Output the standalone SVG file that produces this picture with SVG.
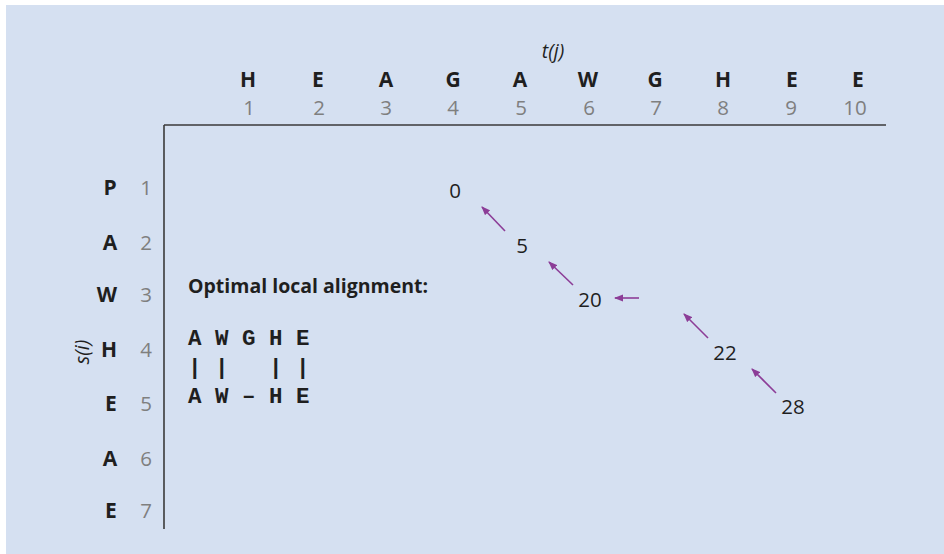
<svg xmlns="http://www.w3.org/2000/svg" width="944" height="554" viewBox="0 0 944 554">
<style>
.bg{fill:#d5e0f1}
.ax{stroke:#3a3a3a;stroke-width:1.6;fill:none}
.lt{font-family:"Open Sans","Noto Sans",sans-serif;font-weight:bold;font-size:21px;fill:#1f1f1f;text-anchor:middle}
.nm{font-family:"Open Sans","Noto Sans",sans-serif;font-size:20.5px;fill:#7f7f7f;text-anchor:middle}
.it{font-family:"Open Sans","Noto Sans",sans-serif;font-style:italic;font-size:19.5px;fill:#1f1f1f;text-anchor:middle}
.sc{font-family:"Open Sans","Noto Sans",sans-serif;font-size:20.5px;fill:#1f1f1f;text-anchor:middle}
.hd{font-family:"Open Sans","Noto Sans",sans-serif;font-weight:bold;font-size:19.5px;fill:#1f1f1f}
.mono{font-family:"Liberation Mono","Courier New",monospace;font-weight:bold;font-size:22.5px;fill:#1f1f1f;white-space:pre}
.arr{stroke:#8c3d97;stroke-width:1.6;fill:none;marker-end:url(#ah)}
</style>
<defs>
<marker id="ah" markerWidth="9" markerHeight="8" refX="8" refY="4" orient="auto" markerUnits="userSpaceOnUse">
<path d="M0,0.5 L9,4 L0,7.5 z" fill="#8c3d97"/>
</marker>
</defs>
<rect class="bg" x="6" y="5" width="938" height="549"/>
<g id="axes">
<line class="ax" x1="164" y1="125" x2="886" y2="125"/>
<line class="ax" x1="164" y1="125" x2="164" y2="529"/>
</g>
<g id="t-label"><text class="it" x="553" y="58">t(j)</text></g>
<g id="s-label"><text class="it" transform="translate(89,352) rotate(-90)">s(i)</text></g>
<g id="col-letters">
<text class="lt" x="248" y="87">H</text>
<text class="lt" x="318" y="87">E</text>
<text class="lt" x="386" y="87">A</text>
<text class="lt" x="453" y="87">G</text>
<text class="lt" x="520" y="87">A</text>
<text class="lt" x="588" y="87">W</text>
<text class="lt" x="655" y="87">G</text>
<text class="lt" x="723" y="87">H</text>
<text class="lt" x="792" y="87">E</text>
<text class="lt" x="858" y="87">E</text>
</g>
<g id="col-numbers">
<text class="nm" x="249" y="115">1</text>
<text class="nm" x="319" y="115">2</text>
<text class="nm" x="386" y="115">3</text>
<text class="nm" x="453" y="115">4</text>
<text class="nm" x="521" y="115">5</text>
<text class="nm" x="589" y="115">6</text>
<text class="nm" x="656" y="115">7</text>
<text class="nm" x="723" y="115">8</text>
<text class="nm" x="791" y="115">9</text>
<text class="nm" x="855" y="115">10</text>
</g>
<g id="row-letters">
<text class="lt" x="110" y="195">P</text>
<text class="lt" x="110" y="250">A</text>
<text class="lt" x="107" y="302">W</text>
<text class="lt" x="109" y="357">H</text>
<text class="lt" x="111" y="411">E</text>
<text class="lt" x="110" y="466">A</text>
<text class="lt" x="111" y="518">E</text>
</g>
<g id="row-numbers">
<text class="nm" x="146" y="195">1</text>
<text class="nm" x="146" y="250">2</text>
<text class="nm" x="146" y="302">3</text>
<text class="nm" x="146" y="357">4</text>
<text class="nm" x="146" y="411">5</text>
<text class="nm" x="146" y="466">6</text>
<text class="nm" x="146" y="518">7</text>
</g>
<g id="alignment">
<text class="hd" x="188" y="293">Optimal local alignment:</text>
<text class="mono" x="188" y="345" xml:space="preserve">A W G H E</text>
<text class="mono" x="188" y="374" xml:space="preserve">| |   | |</text>
<text class="mono" x="188" y="403" xml:space="preserve">A W – H E</text>
</g>
<g id="score-0"><text class="sc" x="455" y="198">0</text></g>
<g id="score-5"><text class="sc" x="522" y="253">5</text></g>
<g id="score-20"><text class="sc" x="590" y="307">20</text></g>
<g id="score-22"><text class="sc" x="725" y="360">22</text></g>
<g id="score-28"><text class="sc" x="793" y="414">28</text></g>
<g id="connectors">
<line class="arr" x1="505" y1="231" x2="482" y2="207"/>
<line class="arr" x1="573" y1="285" x2="549" y2="262"/>
<line class="arr" x1="639" y1="298" x2="615" y2="298"/>
<line class="arr" x1="708" y1="338" x2="684" y2="314"/>
<line class="arr" x1="776" y1="393" x2="752" y2="369"/>
</g>
</svg>
